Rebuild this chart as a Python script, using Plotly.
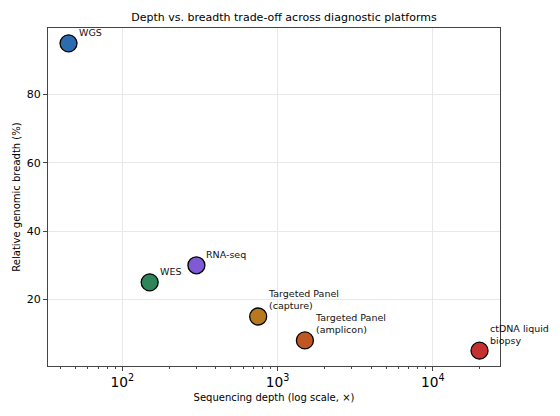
import math
import plotly.graph_objs as go

platforms = ['WGS', 'WES', 'RNA-seq', 'Targeted Panel<br>(capture)',
             'Targeted Panel<br>(amplicon)', 'ctDNA liquid<br>biopsy']
depth = [45, 150, 300, 750, 1500, 20000]
breadth = [95, 25, 30, 15, 8, 5]
colors = ['#2b6cb0', '#2f855a', '#805ad5', '#b7791f', '#c05621', '#c53030']

fig = go.Figure()
fig.add_trace(go.Scatter(x=depth, y=breadth, mode='markers',
                         marker=dict(size=17, color=colors,
                                     line=dict(width=1.3, color='black')),
                         hovertext=platforms, showlegend=False))

# annotations on a log axis take log10 positions
for name, xv, yv in zip(platforms, depth, breadth):
    fig.add_annotation(x=math.log10(xv), y=yv, xref='x', yref='y', text=name,
                       showarrow=False, xanchor='left', yanchor='bottom',
                       xshift=8, yshift=3, align='left',
                       font=dict(size=9.5, color='#111'))

axis_style = dict(showline=True, mirror=True, linecolor='#444', linewidth=1.2,
                  ticks='outside', ticklen=4, tickcolor='#444',
                  showgrid=True, gridcolor='#e8e8e8', zeroline=False,
                  automargin=False,
                  tickfont=dict(size=11, color='black'))

# page body adds an 8px offset, so the figure is 8px smaller than the window
fig.update_layout(
    width=552, height=408,
    template='plotly_white',
    font=dict(family='DejaVu Sans', color='black'),
    title=dict(text='Depth vs. breadth trade-off across diagnostic platforms',
               x=0.5, xanchor='center', y=0.978, yanchor='middle',
               font=dict(size=11)),
    margin=dict(l=40, r=60, t=20, b=50),
    plot_bgcolor='white', paper_bgcolor='white',
    xaxis=dict(type='log', range=[1.521, 4.433], dtick=1,
               exponentformat='power',
               title=dict(text='Sequencing depth (log scale, ×)',
                          font=dict(size=10), standoff=4),
               minor=dict(ticks='outside', ticklen=2, tickcolor='#444',
                          showgrid=False),
               **axis_style),
    yaxis=dict(range=[0.5, 99.5], tickvals=[20, 40, 60, 80],
               title=dict(text='Relative genomic breadth (%)',
                          font=dict(size=10), standoff=4),
               **axis_style),
)

fig.write_html('out.html')
